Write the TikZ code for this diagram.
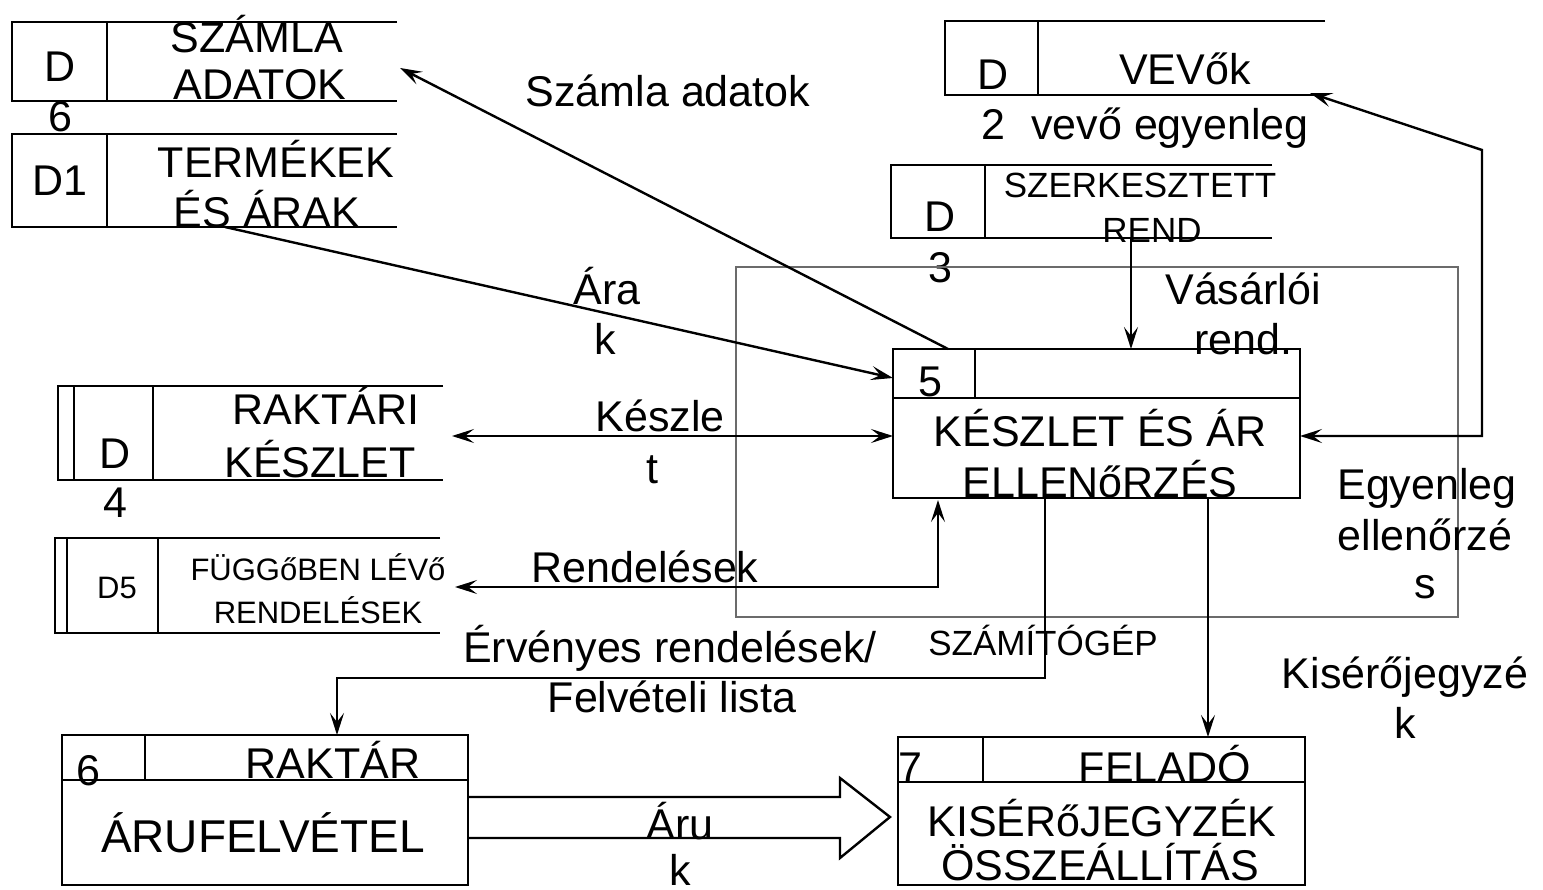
\documentclass[tikz,border=0pt]{standalone}
\usepackage{fontspec}
\setmainfont{Liberation Sans}
\usetikzlibrary{arrows.meta}
\tikzset{
  tip/.tip={Stealth[length=22pt,width=14pt,inset=9pt]},
  ln/.style={line width=2.4pt, black},
  arr/.style={ln, -tip},
  darr/.style={ln, tip-tip},
  frame/.style={line width=2.4pt, draw=black!58},
  pbox/.style={draw, line width=2.4pt, inner sep=0pt},
  lbl/.style={anchor=base, inner sep=0pt, font=\fontsize{43pt}{50pt}\selectfont},
  big/.style={anchor=base, inner sep=0pt, font=\fontsize{46pt}{52pt}\selectfont},
  mid/.style={anchor=base, inner sep=0pt, font=\fontsize{35pt}{40pt}\selectfont},
  sml/.style={anchor=base, inner sep=0pt, font=\fontsize{31pt}{36pt}\selectfont}
}
\begin{document}
\begin{tikzpicture}[x=1pt,y=-1pt]
\useasboundingbox (0,0) rectangle (1543,890);

% ---------- D6 SZAMLA ADATOK ----------
\draw[ln] (397,22) -- (12,22) -- (12,101) -- (397,101);
\draw[ln] (107,22) -- (107,101);
\node[lbl] (d6a) at (60,82) {D};
\node[lbl] (d6b) at (60,132) {6};
\node[lbl] (d6c) at (257,53) {SZÁMLA};
\node[lbl] (d6d) at (260,100) {ADATOK};

% ---------- D1 TERMEKEK ----------
\draw[ln] (397,134) -- (12,134) -- (12,227) -- (397,227);
\draw[ln] (107,134) -- (107,227);
\node[lbl] (d1a) at (60,196) {D1};
\node[lbl] (d1b) at (276,178) {TERMÉKEK};
\node[lbl] (d1c) at (267,228) {ÉS ÁRAK};

% ---------- D2 VEVOK ----------
\draw[ln] (1325,21) -- (945,21) -- (945,95) -- (1325,95);
\draw[ln] (1038,21) -- (1038,95);
\node[lbl] (d2a) at (993,90) {D};
\node[lbl] (d2b) at (993,140) {2};
\node[lbl] (d2c) at (1185,85) {VEVők};
\node[lbl] (l2) at (1170,140) {vevő egyenleg};

% ---------- D3 SZERKESZTETT REND ----------
\draw[ln] (1272,165) -- (891,165) -- (891,238) -- (1272,238);
\draw[ln] (985,165) -- (985,238);
\node[lbl] (d3a) at (940,232) {D};
\node[lbl] (d3b) at (940,283) {3};
\node[mid] (d3c) at (1140,198) {SZERKESZTETT};
\node[mid] (d3d) at (1152,243) {REND};

% ---------- D4 RAKTARI KESZLET ----------
\draw[ln] (443,386) -- (58,386) -- (58,480) -- (443,480);
\draw[ln] (74,386) -- (74,480);
\draw[ln] (153,386) -- (153,480);
\node[lbl] (d4a) at (115,468) {D};
\node[lbl] (d4b) at (115,518) {4};
\node[lbl] (d4c) at (326,425) {RAKTÁRI};
\node[lbl] (d4d) at (320,478) {KÉSZLET};

% ---------- D5 FUGGOBEN ----------
\draw[ln] (440,538) -- (55,538) -- (55,633) -- (440,633);
\draw[ln] (67,538) -- (67,633);
\draw[ln] (158,538) -- (158,633);
\node[sml] (d5a) at (117,598) {D5};
\node[sml] (d5b) at (318,580) {FÜGGőBEN LÉVő};
\node[sml] (d5c) at (318,623) {RENDELÉSEK};

% ---------- computer boundary ----------
\draw[frame] (736,267) rectangle (1458,617);
\node[mid] (comp) at (1043,655) {SZÁMÍTÓGÉP};

% ---------- Process 5 ----------
\node[pbox, minimum width=407pt, minimum height=149pt] (p5) at (1096.5,423.5) {};
\draw[ln] (893,398) -- (1300,398);
\draw[ln] (975,349) -- (975,398);
\node[lbl] (p5n) at (930,397) {5};
\node[lbl] (p5a) at (1100,447) {KÉSZLET ÉS ÁR};
\node[lbl] (p5b) at (1100,497) {ELLENőRZÉS};

% ---------- Process 6 ----------
\node[pbox, minimum width=406pt, minimum height=150pt] (p6) at (265,810) {};
\draw[ln] (62,780) -- (468,780);
\draw[ln] (145,735) -- (145,780);
\node[lbl] (p6n) at (88,785) {6};
\node[lbl] (p6a) at (333,778) {RAKTÁR};
\node[big] (p6b) at (263,852) {ÁRUFELVÉTEL};

% ---------- Process 7 ----------
\node[pbox, minimum width=407pt, minimum height=148pt] (p7) at (1101.5,811) {};
\draw[ln] (898,782) -- (1305,782);
\draw[ln] (983,737) -- (983,782);
\node[lbl] (p7n) at (910,782) {7};
\node[lbl] (p7a) at (1165,782) {FELADÓ};
\node[lbl] (p7b) at (1102,836) {KISÉRőJEGYZÉK};
\node[lbl] (p7c) at (1100,880) {ÖSSZEÁLLÍTÁS};

% ---------- connectors ----------
% Szamla adatok
\coordinate (c1s) at (948,349);
\coordinate (c1e) at (400,68);
\draw[arr] (c1s) -- (c1e);
\node[lbl] (t1) at (668,107) {Számla adatok};

% Arak
\coordinate (c2s) at (225,227);
\coordinate (c2e) at (893,378);
\draw[arr] (c2s) -- (c2e);
\node[lbl] (t2a) at (607,305) {Ára};
\node[lbl] (t2b) at (605,355) {k};

% Keszlet
\coordinate (c3s) at (452,436);
\coordinate (c3e) at (893,436);
\draw[darr] (c3s) -- (c3e);
\node[lbl] (t3a) at (660,432) {Készle};
\node[lbl] (t3b) at (652,484) {t};

% Rendelesek
\coordinate (c4s) at (455,587);
\coordinate (c4e) at (938,500);
\draw[darr] (c4s) -- (938,587) -- (c4e);
\node[lbl] (t4) at (645,582) {Rendelések};

% Vasarloi rend.
\coordinate (c5s) at (1131,238);
\coordinate (c5e) at (1131,349);
\draw[arr] (c5s) -- (c5e);
\node[lbl] (t5a) at (1243,305) {Vásárlói};
\node[lbl] (t5b) at (1243,355) {rend.};

% Egyenleg ellenorzes
\coordinate (c6s) at (1300,436);
\coordinate (c6e) at (1310,93);
\draw[darr] (c6s) -- (1482,436) -- (1482,150) -- (c6e);
\node[lbl] (t6a) at (1427,500) {Egyenleg};
\node[lbl] (t6b) at (1425,550) {ellenőrzé};
\node[lbl] (t6c) at (1425,598) {s};

% Ervenyes rendelesek
\coordinate (c7s) at (1045,498);
\coordinate (c7e) at (337,735);
\draw[arr] (c7s) -- (1045,678) -- (337,678) -- (c7e);
\node[lbl] (t7a) at (670,662) {Érvényes rendelések/};
\node[lbl] (t7b) at (672,712) {Felvételi lista};

% Kiserojegyzek
\coordinate (c8s) at (1208,498);
\coordinate (c8e) at (1208,737);
\draw[arr] (c8s) -- (c8e);
\node[lbl] (t8a) at (1405,688) {Kisérőjegyzé};
\node[lbl] (t8b) at (1405,738) {k};

% Aruk (hollow arrow)
\draw[ln, line join=miter] (468,797) -- (840,797) -- (840,778) -- (890,817) -- (840,858) -- (840,838) -- (468,838);
\node[lbl] (t9a) at (680,839) {Áru};
\node[lbl] (t9b) at (680,885) {k};
\end{tikzpicture}
\end{document}
